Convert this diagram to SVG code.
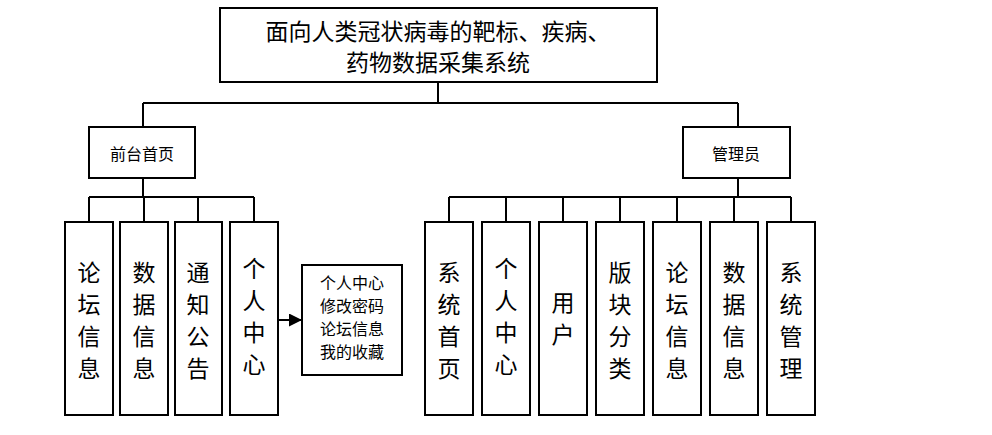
<svg xmlns="http://www.w3.org/2000/svg" width="992" height="435" viewBox="0 0 992 435">
<style>
.b{fill:#fff;stroke:#000;stroke-width:2}
.l{fill:none;stroke:#000;stroke-width:2}
text{font-family:"Noto Sans CJK SC","Noto Sans",sans-serif;fill:#000;text-anchor:middle}
.v{font-size:23px}
</style>
<defs><marker id="a" markerWidth="13" markerHeight="13" refX="12" refY="6.5" orient="auto" markerUnits="userSpaceOnUse"><path d="M0,0L13,6.5L0,13z" fill="#000"/></marker></defs>
<g id="connectors">
<path class="l" d="M438 82V103M143 103H738M143 103V127M738 103V127"/>
<path class="l" d="M143 178V197M89 197H254M89 197V222M144 197V222M198 197V222M254 197V222"/>
<path class="l" d="M738 178V197M449 197H791M449 197V222M506 197V222M563 197V222M620 197V222M677 197V222M734 197V222M791 197V222"/>
<path class="l" d="M278 320H301" marker-end="url(#a)"/>
</g>
<g id="root"><rect class="b" x="220" y="8" width="437" height="74"/><text x="438" y="40" font-size="23">面向人类冠状病毒的靶标、疾病、</text><text x="438" y="71" font-size="23">药物数据采集系统</text></g>
<g id="front"><rect class="b" x="89" y="127" width="106" height="51"/><text x="142" y="160" font-size="16">前台首页</text></g>
<g id="admin"><rect class="b" x="683" y="127" width="107" height="51"/><text x="736" y="160" font-size="16">管理员</text></g>
<g id="f1"><rect class="b" x="65" y="222" width="48" height="193"/><text class="v" x="89"><tspan x="89" y="281">论</tspan><tspan x="89" y="313">坛</tspan><tspan x="89" y="345">信</tspan><tspan x="89" y="377">息</tspan></text></g>
<g id="f2"><rect class="b" x="120" y="222" width="48" height="193"/><text class="v"><tspan x="144" y="281">数</tspan><tspan x="144" y="313">据</tspan><tspan x="144" y="345">信</tspan><tspan x="144" y="377">息</tspan></text></g>
<g id="f3"><rect class="b" x="175" y="222" width="47" height="193"/><text class="v"><tspan x="198" y="281">通</tspan><tspan x="198" y="313">知</tspan><tspan x="198" y="345">公</tspan><tspan x="198" y="377">告</tspan></text></g>
<g id="f4"><rect class="b" x="230" y="222" width="48" height="193"/><text class="v"><tspan x="254" y="277">个</tspan><tspan x="254" y="309">人</tspan><tspan x="254" y="341">中</tspan><tspan x="254" y="373">心</tspan></text></g>
<g id="sub"><rect class="b" x="302" y="265" width="100" height="110"/><text font-size="16"><tspan x="352" y="289">个人中心</tspan><tspan x="352" y="312">修改密码</tspan><tspan x="352" y="335">论坛信息</tspan><tspan x="352" y="358">我的收藏</tspan></text></g>
<g id="a1"><rect class="b" x="425" y="222" width="48" height="193"/><text class="v"><tspan x="449" y="281">系</tspan><tspan x="449" y="313">统</tspan><tspan x="449" y="345">首</tspan><tspan x="449" y="377">页</tspan></text></g>
<g id="a2"><rect class="b" x="482" y="222" width="48" height="193"/><text class="v"><tspan x="506" y="277">个</tspan><tspan x="506" y="309">人</tspan><tspan x="506" y="341">中</tspan><tspan x="506" y="373">心</tspan></text></g>
<g id="a3"><rect class="b" x="539" y="222" width="48" height="193"/><text class="v"><tspan x="563" y="311">用</tspan><tspan x="563" y="343">户</tspan></text></g>
<g id="a4"><rect class="b" x="596" y="222" width="48" height="193"/><text class="v"><tspan x="620" y="281">版</tspan><tspan x="620" y="313">块</tspan><tspan x="620" y="345">分</tspan><tspan x="620" y="377">类</tspan></text></g>
<g id="a5"><rect class="b" x="653" y="222" width="48" height="193"/><text class="v"><tspan x="677" y="281">论</tspan><tspan x="677" y="313">坛</tspan><tspan x="677" y="345">信</tspan><tspan x="677" y="377">息</tspan></text></g>
<g id="a6"><rect class="b" x="710" y="222" width="48" height="193"/><text class="v"><tspan x="734" y="281">数</tspan><tspan x="734" y="313">据</tspan><tspan x="734" y="345">信</tspan><tspan x="734" y="377">息</tspan></text></g>
<g id="a7"><rect class="b" x="767" y="222" width="48" height="193"/><text class="v"><tspan x="791" y="281">系</tspan><tspan x="791" y="313">统</tspan><tspan x="791" y="345">管</tspan><tspan x="791" y="377">理</tspan></text></g>
</svg>
